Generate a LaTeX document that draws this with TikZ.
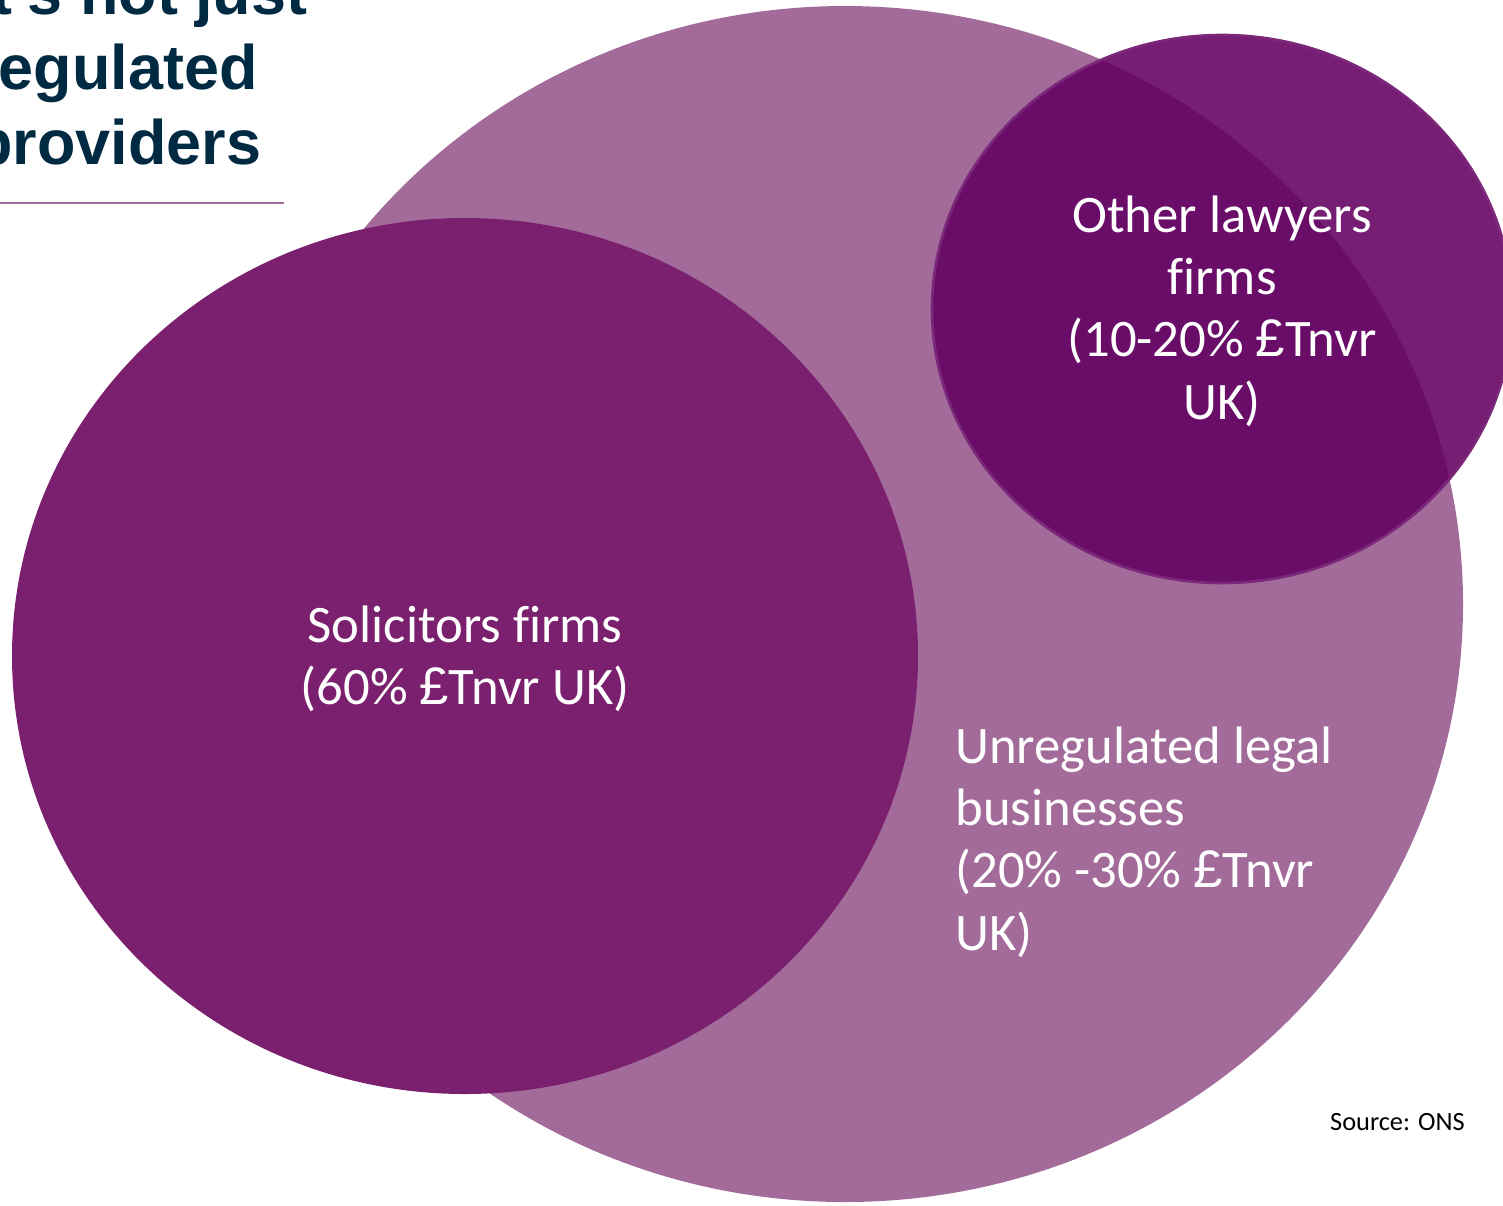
\documentclass[tikz,border=0pt]{standalone}
\usepackage{fontspec}
\setmainfont{Carlito}[Ligatures={TeX,NoCommon}]
\newfontfamily\titlefont{Liberation Sans}
\newcommand{\pnd}{{\titlefont £}}
\definecolor{bigpurple}{RGB}{162,107,154}
\definecolor{solpurple}{RGB}{122,32,110}
\definecolor{lawpurple}{RGB}{100,2,98}
\definecolor{titleblue}{RGB}{0,42,66}

\begin{document}
\begin{tikzpicture}[x=0.02cm, y=-0.02cm,
    lbl/.style={text=white, inner sep=0pt, font=\fontsize{30}{35.5}\selectfont}]
    \useasboundingbox (0,0) rectangle (1503,1205);
    \clip (0,0) rectangle (1503,1205);

    \coordinate (U) at (845, 604);
    \coordinate (S) at (465, 656);
    \coordinate (L) at (1222, 309);

    % the three sets
    \fill[bigpurple] (U) ellipse [x radius=618, y radius=598];
    \fill[solpurple] (S) ellipse [x radius=453, y radius=438];
    \filldraw[fill=lawpurple, fill opacity=0.89, draw=lawpurple!85!white, line width=1.5pt]
        (L) ellipse [x radius=290, y radius=274];

    % title
    \node[anchor=north west, inner sep=0pt, align=left, text=titleblue,
        font=\titlefont\bfseries\fontsize{35.8}{42.7}\selectfont] (title) at (-26, -31)
        {It's not just\\regulated\\providers};
    \draw[bigpurple, line width=0.8pt] (0, 203) -- (284, 203);

    \node[lbl, align=center] (sol) at (465, 659) {Solicitors firms\\(60\% \pnd Tnvr UK)};
    \node[lbl, align=center] (oth) at (1222, 311) {Other lawyers\\firms\\(10-20\% \pnd Tnvr\\UK)};
    \node[lbl, align=left, anchor=west] (unr) at (955, 842)
        {Unregulated legal\\businesses\\(20\% -30\% \pnd Tnvr\\UK)};
    \node[anchor=east, inner sep=0pt, font=\fontsize{15}{18}\selectfont] (src) at (1465, 1122) {Source: ONS};
\end{tikzpicture}
\end{document}
